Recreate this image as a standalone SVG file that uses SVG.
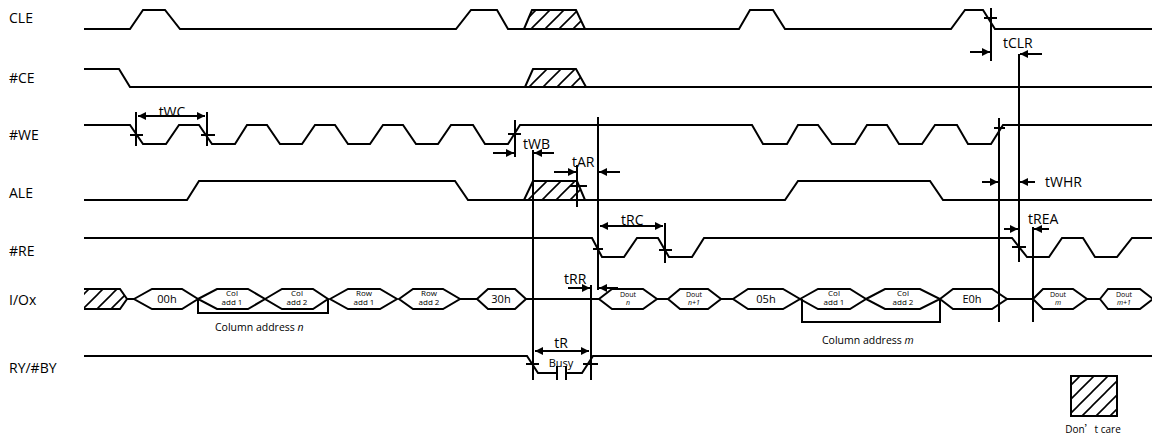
<svg xmlns="http://www.w3.org/2000/svg" width="1152" height="441" viewBox="0 0 1152 441">
<style>
.sig{fill:none;stroke:#000;stroke-width:2;stroke-linejoin:miter}
.ln{fill:none;stroke:#000;stroke-width:2}
.hx{fill:#fff;stroke:#000;stroke-width:2}
.ht{fill:url(#hatch);stroke:#000;stroke-width:2}
.arr{fill:none;stroke:#000;stroke-width:2;marker-end:url(#ah)}
.dbl{fill:none;stroke:#000;stroke-width:2;marker-end:url(#ah);marker-start:url(#ahs)}
.lbl{font-family:"Open Sans","Liberation Sans",sans-serif;font-size:14px;fill:#000}
.tm{font-family:"Open Sans","Liberation Sans",sans-serif;font-size:14px;fill:#000}
.hv{font-family:"Open Sans","Liberation Sans",sans-serif;font-size:11px;fill:#000;text-anchor:middle}
.sm{font-family:"Open Sans","Liberation Sans",sans-serif;font-size:8px;fill:#000;text-anchor:middle}
.xs{font-family:"Open Sans","Liberation Sans",sans-serif;font-size:7px;fill:#000;text-anchor:middle}
.ca{font-family:"Open Sans","Liberation Sans",sans-serif;font-size:10.5px;fill:#000}
</style>
<defs>
<pattern id="hatch" patternUnits="userSpaceOnUse" width="14" height="14">
<path d="M0,14 L14,0 M-7,7 L7,-7 M7,21 L21,7" stroke="#000" stroke-width="1.6"/>
</pattern>
<marker id="ah" markerUnits="userSpaceOnUse" markerWidth="9" markerHeight="8" refX="8" refY="4" orient="auto">
<path d="M0,0 L8,4 L0,8 Z" fill="#000"/>
</marker>
<marker id="ahs" markerUnits="userSpaceOnUse" markerWidth="9" markerHeight="8" refX="8" refY="4" orient="auto-start-reverse">
<path d="M0,0 L8,4 L0,8 Z" fill="#000"/>
</marker>
</defs>
<rect width="1152" height="441" fill="#fff"/>

<g id="labels">
<text class="lbl" x="9" y="23">CLE</text>
<text class="lbl" x="9" y="83">#CE</text>
<text class="lbl" x="9" y="140">#WE</text>
<text class="lbl" x="9" y="198">ALE</text>
<text class="lbl" x="9" y="256">#RE</text>
<text class="lbl" x="9" y="305">I/Ox</text>
<text class="lbl" x="9" y="373">RY/#BY</text>
</g>

<g id="CLE">
<path class="sig" d="M84,29 H130 L143,10 H165 L180,29 H456 L471,10 H497 L508,29 H739 L750,10 H773 L785,29 H951 L965,10 H983 L995,29 H1152"/>
<path class="ht" d="M524,29 L532,10 H576 L585,29"/>
</g>

<g id="CE">
<path class="sig" d="M84,69 H119 L130,87 H1152"/>
<path class="ht" d="M525,87 L533,69 H576 L586,87"/>
</g>

<g id="WE">
<path class="sig" d="M84,125 H130 L143,144 H166 L179,125 H199 L212,144 H235 L247,125 H267 L280,144 H302 L315,125 H335 L348,144 H370 L383,125 H403 L416,144 H438 L451,125 H473 L485,144 H508 L520,125 H752 L763,144 H787 L798,125 H818 L832,144 H855 L867,125 H887 L899,144 H922 L935,125 H957 L968,144 H991 L1003,125 H1152"/>
</g>

<g id="ALE">
<path class="sig" d="M84,200 H187 L199,181 H455 L468,200 H785 L798,181 H930 L943,200 H1152"/>
<path class="ht" d="M524,200 L533,181 H577 L585,200"/>
</g>

<g id="RE">
<path class="sig" d="M84,238 H592 L602,257 H624 L637,238 H658 L669,257 H692 L704,238 H1012 L1027,257 H1049 L1062,238 H1083 L1095,257 H1117 L1132,238 H1152"/>
</g>

<g id="IOx">
<path d="M84,289 H120 L127,299 L120,309 H84 Z" fill="url(#hatch)" stroke="none"/>
<path class="sig" d="M84,289 H120 L127,299 L120,309 H84"/>
<path class="ln" d="M127,299 H134 M460,299 H477 M526,299 H599 M657,299 H668 M721,299 H733 M1007,299 H1033 M1087,299 H1100"/>
<path class="hx" d="M134,299 L152,289 H182 L198,299 L182,309 H152 Z"/>
<path class="hx" d="M198,299 L217,289 H248 L265,299 L248,309 H217 Z"/>
<path class="hx" d="M265,299 L282,289 H313 L328,299 L313,309 H282 Z"/>
<path class="hx" d="M330,299 L348,289 H380 L397,299 L380,309 H348 Z"/>
<path class="hx" d="M399,299 L413,289 H443 L460,299 L443,309 H413 Z"/>
<path class="hx" d="M477,299 L488,289 H515 L526,299 L515,309 H488 Z"/>
<path class="hx" d="M599,299 L612,289 H643 L657,299 L643,309 H612 Z"/>
<path class="hx" d="M668,299 L680,289 H708 L721,299 L708,309 H680 Z"/>
<path class="hx" d="M733,299 L748,289 H783 L800,299 L783,309 H748 Z"/>
<path class="hx" d="M800,299 L818,289 H850 L866,299 L850,309 H818 Z"/>
<path class="hx" d="M866,299 L885,289 H920 L940,299 L920,309 H885 Z"/>
<path class="hx" d="M940,299 L953,289 H992 L1007,299 L992,309 H953 Z"/>
<path class="hx" d="M1033,299 L1043,289 H1073 L1087,299 L1073,309 H1043 Z"/>
<path class="hx" d="M1100,299 L1108,289 H1140 L1153,299 L1140,309 H1108 Z"/>
<text class="hv" x="167" y="303">00h</text>
<text class="sm" x="232" y="296">Col</text><text class="sm" x="232" y="305">add 1</text>
<text class="sm" x="297" y="296">Col</text><text class="sm" x="297" y="305">add 2</text>
<text class="sm" x="364" y="296">Row</text><text class="sm" x="364" y="305">add 1</text>
<text class="sm" x="429" y="296">Row</text><text class="sm" x="429" y="305">add 2</text>
<text class="hv" x="501" y="303">30h</text>
<text class="xs" x="628" y="297">Dout</text><text class="xs" x="628" y="305" font-style="italic" font-size="6">n</text>
<text class="xs" x="694" y="297">Dout</text><text class="xs" x="694" y="305" font-style="italic" font-size="6">n+1</text>
<text class="hv" x="766" y="303">05h</text>
<text class="sm" x="834" y="296">Col</text><text class="sm" x="834" y="305">add 1</text>
<text class="sm" x="903" y="296">Col</text><text class="sm" x="903" y="305">add 2</text>
<text class="hv" x="972" y="303">E0h</text>
<text class="xs" x="1058" y="297">Dout</text><text class="xs" x="1058" y="305" font-style="italic" font-size="6">m</text>
<text class="xs" x="1124" y="297">Dout</text><text class="xs" x="1124" y="305" font-style="italic" font-size="6">m+1</text>
<path class="ln" d="M198,299 V313 H328 V299"/>
<path class="ln" d="M802,299 V322 H940 V299"/>
<text class="ca" x="215" y="331">Column address <tspan font-style="italic">n</tspan></text>
<text class="ca" x="822" y="344">Column address <tspan font-style="italic">m</tspan></text>
</g>

<g id="RYBY">
<path class="sig" d="M84,356 H527 L538,373 H557 M566,373 H582 L593,356 H1152"/>
<path class="ln" d="M557,366 V380 M566,366 V380"/>
<text class="tm" x="561" y="348" text-anchor="middle">tR</text>
<text class="hv" x="561" y="367">Busy</text>
</g>

<g id="legend">
<rect class="ht" x="1071" y="376" width="46" height="40"/>
<text x="1093" y="433" text-anchor="middle" font-family="Open Sans, Liberation Sans, sans-serif" font-size="10">Don<tspan font-family="Noto Sans CJK SC, sans-serif">’</tspan>t care</text>
</g>

<g id="connectors">
<!-- tWC -->
<path class="ln" d="M136,112 V146 M207,112 V146 M130,135 H143 M201,135 H215"/>
<path class="dbl" d="M138,116 H205"/>
<text class="tm" x="172" y="117" text-anchor="middle">tWC</text>
<!-- tWB -->
<path class="ln" d="M515,120 V157 M508,134 H521"/>
<path class="arr" d="M493,153 H514"/>
<text class="tm" x="523" y="149">tWB</text>
<path class="ln" d="M533,150 V380 M526,364 H539"/>
<path class="arr" d="M554,153 H534"/>
<!-- tAR -->
<path class="arr" d="M554,172 H576"/>
<path class="ln" d="M577,165 V207 M570,186 H587"/>
<text class="tm" x="572" y="167">tAR</text>
<path class="ln" d="M598,117 V290 M593,249 H603"/>
<path class="arr" d="M620,172 H599"/>
<!-- tRC -->
<path class="dbl" d="M600,226 H663"/>
<path class="ln" d="M665,223 V263 M659,250 H672"/>
<text class="tm" x="621" y="225">tRC</text>
<!-- tRR -->
<path class="arr" d="M568,288 H590"/>
<path class="arr" d="M618,288 H599"/>
<path class="ln" d="M591,285 V380 M583,364 H598"/>
<text class="tm" x="564" y="284">tRR</text>
<!-- tR -->
<path class="dbl" d="M535,351 H589"/>
<!-- tCLR -->
<path class="ln" d="M991,8 V61 M984,18 H997"/>
<path class="arr" d="M970,52 H990"/>
<text class="tm" x="1003" y="48">tCLR</text>
<path class="ln" d="M1019,54 V262 M1012,247 H1026"/>
<path class="arr" d="M1042,54 H1020"/>
<!-- tWHR -->
<path class="ln" d="M999,118 V322 M994,128 H1005"/>
<path class="arr" d="M982,182 H998"/>
<path class="arr" d="M1035,182 H1020"/>
<text class="tm" x="1045" y="187">tWHR</text>
<!-- tREA -->
<path class="arr" d="M1004,229 H1018"/>
<path class="arr" d="M1049,229 H1034"/>
<path class="ln" d="M1033,227 V322"/>
<text class="tm" x="1028" y="224">tREA</text>
</g>
</svg>
